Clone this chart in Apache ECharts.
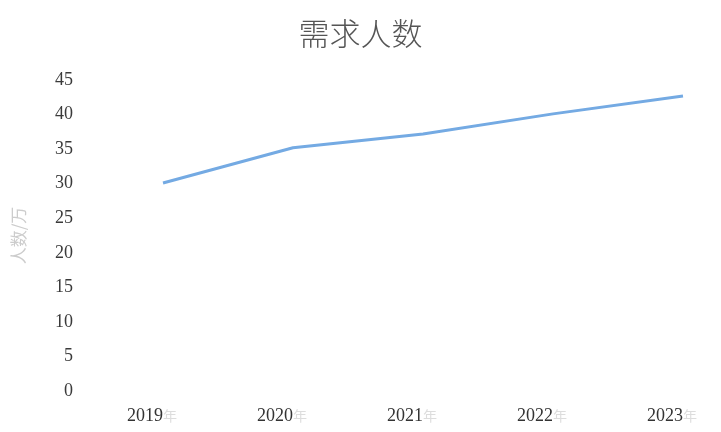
<!DOCTYPE html>
<html><head><meta charset="utf-8">
<script src="https://cdn.jsdelivr.net/npm/echarts@6/dist/echarts.min.js"></script>
<style>html,body{margin:0;padding:0;background:#fff}#c{width:721px;height:432px}</style>
</head><body><div id="c"></div>
<script>
const years = ['2019', '2020', '2021', '2022', '2023'];
const demand = [30.1, 35.2, 37.2, 40.1, 42.7];
const yTicks = [0, 5, 10, 15, 20, 25, 30, 35, 40, 45];

const chart = echarts.init(document.getElementById('c'));
chart.setOption({
  backgroundColor: '#fff',
  animation: false,
  title: {
    text: '需求人数', left: 'center', top: 13,
    textStyle: { fontFamily: 'Noto Sans CJK SC', fontWeight: 300, fontSize: 31, color: '#555' }
  },
  grid: { left: 163, right: 38, top: 80, bottom: 41 },
  xAxis: {
    type: 'category', data: years, boundaryGap: false,
    axisLine: { show: false }, axisTick: { show: false }, splitLine: { show: false },
    axisLabel: {
      margin: 16,
      formatter: v => '{y|' + v + '}{n|年}',
      rich: {
        y: { fontFamily: 'Liberation Serif', fontSize: 18, color: '#333' },
        n: { fontFamily: 'Noto Sans CJK SC', fontSize: 14, color: '#ddd' }
      },
      padding: [0, 22, 0, 0]
    }
  },
  yAxis: {
    type: 'value', min: yTicks[0], max: yTicks[yTicks.length - 1], interval: 5,
    name: '人数/万', nameLocation: 'middle', nameGap: 136, nameRotate: 90,
    nameTextStyle: { fontFamily: 'Noto Sans CJK SC', fontSize: 17, color: '#ccc' },
    axisLine: { show: false }, axisTick: { show: false }, splitLine: { show: false },
    axisLabel: { margin: 90, fontFamily: 'Liberation Serif', fontSize: 18, color: '#3a3a3a' }
  },
  series: [{
    type: 'line', data: demand, showSymbol: false,
    lineStyle: { color: '#74aae3', width: 3 }
  }]
});
</script></body></html>
